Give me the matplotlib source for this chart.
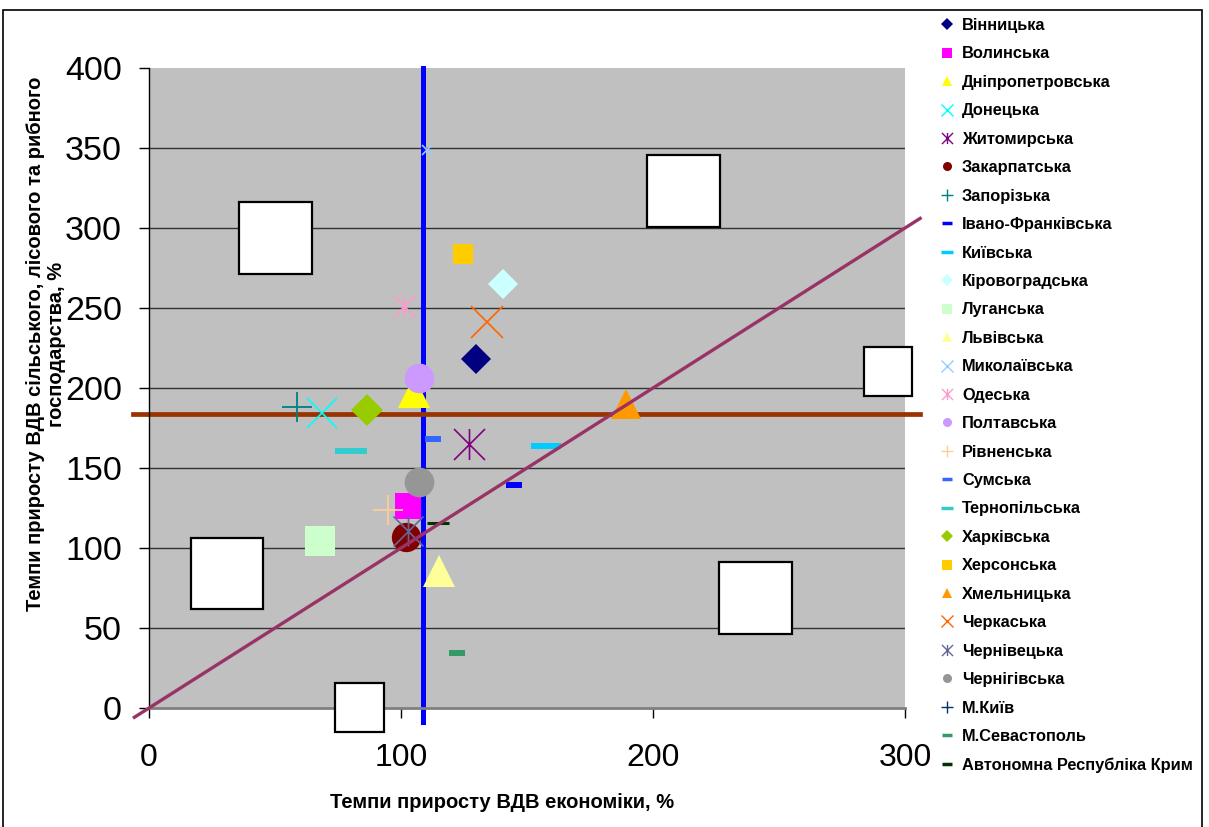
import numpy as np
import matplotlib
matplotlib.use("Agg")
from matplotlib import pyplot as plt
from matplotlib import font_manager
from matplotlib.lines import Line2D
from matplotlib.patches import Rectangle
from matplotlib.path import Path

# -------------------------
# Data
# -------------------------
regions = ["Вінницька", "Волинська", "Дніпропетровська", "Донецька", "Житомирська",
           "Закарпатська", "Запорізька", "Івано-Франківська", "Київська", "Кіровоградська",
           "Луганська", "Львівська", "Миколаївська", "Одеська", "Полтавська",
           "Рівненська", "Сумська", "Тернопільська", "Харківська", "Херсонська",
           "Хмельницька", "Черкаська", "Чернівецька", "Чернігівська", "М.Київ",
           "М.Севастополь", "Автономна Республіка Крим"]

gva_economy = [129.9, 102.9, 105.0, 68.8, 126.9,
               101.9, 58.9, 144.7, 157.5, 140.6,
               68.0, 115.1, 110.4, 101.3, 107.0,
               95.0, 112.6, 80.0, 86.6, 124.7,
               189.1, 134.0, 102.7, 107.0, np.nan,
               122.2, 114.6]

gva_agri = [218.1, 126.3, 197.6, 184.6, 164.8,
            106.7, 188.3, 139.4, 163.5, 264.8,
            104.6, 85.5, 348.8, 251.4, 206.5,
            123.8, 168.1, 160.8, 186.3, 283.8,
            190.1, 241.5, 110.6, 141.0, np.nan,
            34.6, 115.9]

# reference lines
mean_economy = 108.6
mean_agri = 183.7
diag_range = [-5.8, 306.0]

# empty label boxes (x0, y0, width, height) in data units
label_boxes = [(35.7, 271.0, 29.0, 45.0), (197.6, 300.6, 29.0, 45.0),
               (283.7, 195.0, 19.1, 30.6), (16.7, 61.9, 28.5, 44.4),
               (226.2, 46.2, 29.0, 45.0), (73.8, -15.0, 19.5, 30.6)]

# -------------------------
# Styles (Excel palette)
# -------------------------
ast = Path([(-1, -1), (1, 1), (-1, 1), (1, -1), (0, -1), (0, 1)],
           [Path.MOVETO, Path.LINETO, Path.MOVETO, Path.LINETO, Path.MOVETO, Path.LINETO])

# marker, colour, size (pt), edge width
styles = [("D", "#000080", 15.6, 0), ("s", "#FF00FF", 19.2, 0), ("^", "#FFFF00", 22.5, 0),
          ("x", "#00FFFF", 22.3, 1.2), (ast, "#800080", 22.3, 1.2), ("o", "#800000", 21.1, 0),
          ("+", "#008080", 22.3, 1.3), ("_", "#0000FF", 12.0, 4.3), ("_", "#00CCFF", 22.3, 4.3),
          ("D", "#CCFFFF", 15.6, 0), ("s", "#CCFFCC", 21.4, 0), ("^", "#FFFF99", 22.5, 0),
          ("x", "#99CCFF", 7.2, 1.2), (ast, "#FF99CC", 15.8, 1.2), ("o", "#CC99FF", 21.4, 0),
          ("+", "#FFCC99", 22.3, 1.3), ("_", "#3366FF", 12.2, 4.3), ("_", "#33CCCC", 22.8, 4.3),
          ("D", "#99CC00", 15.8, 0), ("s", "#FFCC00", 14.9, 0), ("^", "#FF9900", 22.3, 0),
          ("x", "#FF6600", 22.5, 1.2), (ast, "#666699", 21.6, 1.2), ("o", "#969696", 21.4, 0),
          ("+", "#003366", 22.3, 1.3), ("_", "#339966", 11.8, 4.3), ("_", "#003300", 15.8, 2.2)]


def have_font(name):
    try:
        font_manager.findfont(name, fallback_to_default=False)
        return True
    except Exception:
        return False


if have_font("Liberation Sans Narrow"):
    narrow, title_size = "Liberation Sans Narrow", 15
elif have_font("DejaVu Sans Condensed"):
    narrow, title_size = "DejaVu Sans Condensed", 13.5
else:
    narrow, title_size = "Liberation Sans", 14.5

fig = plt.figure(figsize=(12.09, 8.27), dpi=100)
ax = fig.add_axes([149 / 1209, 1 - 708 / 827, (905 - 149) / 1209, (708 - 68) / 827])
ax.set_facecolor("#C0C0C0")
ax.set_xlim(0, 300)
ax.set_ylim(0, 400)

yt = np.arange(0, 401, 50)
ax.set_xticks([0, 100, 200, 300])
ax.set_yticks(yt)
ax.hlines(yt[1:-1], 0, 300, color="#333333", lw=1.0, zorder=0.5)

for s in ["top", "right"]:
    ax.spines[s].set_visible(False)
ax.spines["left"].set_color("black")
ax.spines["left"].set_linewidth(1.0)
ax.spines["bottom"].set_color("#808080")
ax.spines["bottom"].set_linewidth(2.0)

ax.tick_params(axis="both", direction="out", length=7.5, width=1, color="black")
ax.tick_params(axis="y", pad=12, labelsize=24.5)
ax.tick_params(axis="x", pad=18, labelsize=23)
for lab in ax.get_xticklabels() + ax.get_yticklabels():
    lab.set_fontfamily("Liberation Sans")

# reference lines
ax.plot([mean_economy, mean_economy], [-8.6, 400], color="#0000FF", lw=3.6,
        clip_on=False, zorder=2)
ax.plot([-6.3, 306.0], [mean_agri, mean_agri], color="#993300", lw=3.4,
        clip_on=False, zorder=2.1)

# points
handles = []
for i, name in enumerate(regions):
    m, c, ms, mew = styles[i]
    filled = mew == 0
    ax.plot([gva_economy[i]], [gva_agri[i]], ls="none", marker=m, ms=ms,
            color=c, mfc=c if filled else "none", mec=c, mew=mew if not filled else 0,
            zorder=3 + i * 0.01, clip_on=False)
    lm = 6.5 if filled else 8
    if m == "_":
        lm = 7 if ms < 20 else 9
    handles.append(Line2D([], [], ls="none", marker=m, ms=lm, color=c,
                          mfc=c if filled else "none", mec=c,
                          mew=(1.0 if m != "_" else 2.5) if not filled else 0))

# diagonal y = x
ax.plot(diag_range, diag_range, color="#993366", lw=2.4, clip_on=False, zorder=4)

for (x0, y0, w, h) in label_boxes:
    ax.add_patch(Rectangle((x0, y0), w, h, facecolor="white", edgecolor="black",
                           lw=1.6, zorder=5, clip_on=False))

leg = fig.legend(handles, regions, loc="upper left",
                 bbox_to_anchor=(940 / 1209, 1 - 18 / 827), frameon=False,
                 prop={"family": "Liberation Sans", "weight": "bold", "size": 11.8},
                 labelspacing=0.82, handlelength=0.9, handletextpad=0.45,
                 borderpad=0, borderaxespad=0)

fig.text(502 / 1209, 1 - 803 / 827, "Темпи приросту ВДВ економіки, %",
         ha="center", va="center", fontsize=title_size, fontweight="bold",
         family=narrow)
fig.text(46 / 1209, 1 - 344 / 827,
         "Темпи приросту ВДВ сільського, лісового та рибного\nгосподарства, %",
         ha="center", va="center", rotation=90, multialignment="center",
         fontsize=title_size, fontweight="bold", family=narrow, linespacing=1.1)

fig.patches.append(Rectangle((3 / 1209, -0.05), (1202 - 3) / 1209, 1.05 - 10 / 827,
                             transform=fig.transFigure, fill=False,
                             edgecolor="black", lw=1.2))

fig.savefig("out.png", dpi=100)
